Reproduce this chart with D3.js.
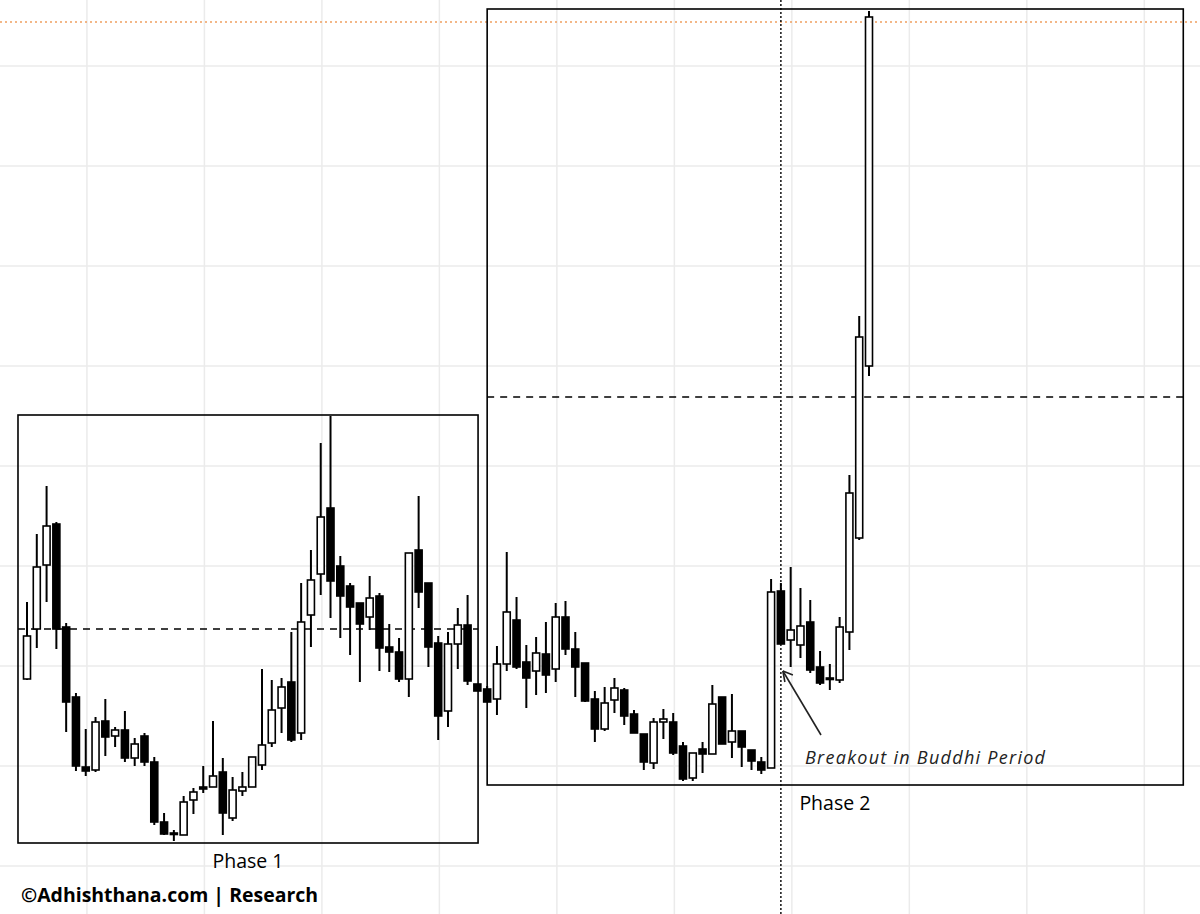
<!DOCTYPE html>
<html><head><meta charset="utf-8">
<script src="https://cdn.jsdelivr.net/npm/d3@7"></script>
<style>body{margin:0;background:#fff}svg{display:block}</style>
</head><body>
<svg id="c" width="1200" height="914"></svg>
<script>
// OHLC values (price units)
const opens  = [235,285,349,390,287,217,147,144,193,178,184,156,178,152,92,80,79,114,127,127,142,96,123,127,149,171,206,232,181,299,340,406,348,328,311,297,318,267,262,235,364,331,271,203,270,289,230,225,215,250,294,252,243,260,245,297,265,251,215,185,214,224,200,180,151,192,192,168,136,165,160,217,172,183,164,152,146,323,274,269,292,247,235,234,282,376,548];
const highs  = [312,380,428,392,291,221,185,197,215,187,203,176,181,157,101,84,118,126,148,193,156,137,142,157,245,234,236,282,331,364,471,498,358,331,311,338,321,290,276,361,418,331,278,282,306,319,230,228,268,362,317,269,277,292,311,313,282,251,223,227,236,226,204,180,196,205,201,172,161,172,229,217,220,183,164,157,335,331,347,326,314,263,250,297,439,598,903];
const lows   = [234,266,312,265,182,143,138,142,158,167,152,148,148,89,79,73,79,100,121,127,79,93,118,127,144,167,181,172,174,267,319,296,276,259,232,284,243,242,232,217,306,247,174,187,245,229,223,212,199,243,245,206,219,221,232,259,217,212,172,183,201,189,181,144,145,175,159,133,133,141,160,170,156,147,144,140,146,270,247,256,241,229,224,231,264,374,538];
const closes = [278,347,388,285,212,148,143,192,177,184,156,170,152,92,80,81,112,122,125,138,101,124,127,157,169,204,227,174,292,334,397,333,318,307,290,316,266,262,235,361,322,267,198,270,289,233,223,212,250,302,247,236,261,239,297,265,247,213,185,211,226,198,181,152,192,195,161,135,161,160,210,170,183,167,153,144,322,270,284,288,244,231,236,287,421,577,897];
// reference levels (price) and annotation anchors (candle index / price)
const phase1 = {x0:-0.92, x1:46.07, top:499, bottom:71, level:285, label:"Phase 1"};
const phase2 = {x0:47.0, x1:118.1, top:905, bottom:129, level:517, label:"Phase 2"};
const highLevel = 892;
const breakoutIndex = 77.0;
const breakoutLabel = "Breakout in Buddhi Period";
const credit = "©Adhishthana.com | Research";

const svg = d3.select("#c");
const x = d3.scaleLinear().domain([0, opens.length-1]).range([27, 869]);
const y = d3.scaleLinear().domain([0, 914]).range([914, 0]);
const bw = 7;
const FONT = "Open Sans, sans-serif";

// grid
const gx = d3.range(-6, 120, 12).map(v => v + 0.12);
svg.append("g").selectAll("line").data(gx).join("line")
  .attr("x1", d=>x(d)).attr("x2", d=>x(d)).attr("y1",0).attr("y2",914)
  .attr("stroke","#ebebeb").attr("stroke-width",1.5);
const gy = d3.range(48, 914, 100);
svg.append("g").selectAll("line").data(gy).join("line")
  .attr("y1", d=>y(d)).attr("y2", d=>y(d)).attr("x1",0).attr("x2",1200)
  .attr("stroke","#ebebeb").attr("stroke-width",1.5);

// orange dotted top level
svg.append("line").attr("x1",0).attr("x2",1200).attr("y1",y(highLevel)).attr("y2",y(highLevel))
  .attr("stroke","#f0a060").attr("stroke-width",1.3).attr("stroke-dasharray","2,3");

// boxes
[phase1, phase2].forEach(p => {
  svg.append("rect").attr("x", x(p.x0)).attr("y", y(p.top))
    .attr("width", x(p.x1)-x(p.x0)).attr("height", y(p.bottom)-y(p.top))
    .attr("fill","none").attr("stroke","#000").attr("stroke-width",1.6);
  svg.append("line").attr("x1", x(p.x0)).attr("x2", x(p.x1))
    .attr("y1", y(p.level)).attr("y2", y(p.level))
    .attr("stroke","#000").attr("stroke-width",1.4).attr("stroke-dasharray","7,6");
  svg.append("text").attr("class","plabel")
    .attr("x", p===phase2 ? x(breakoutIndex)+54 : (x(p.x0)+x(p.x1))/2)
    .attr("y", y(p.bottom)+25).attr("text-anchor","middle")
    .attr("font-family",FONT).attr("font-size",19.5)
    .text(p.label);
});

// vertical dotted breakout line
svg.append("line").attr("x1", x(breakoutIndex)).attr("x2", x(breakoutIndex))
  .attr("y1",0).attr("y2",914).attr("stroke","#000").attr("stroke-width",1.4)
  .attr("stroke-dasharray","2,2");

// candles
const data = opens.map((o,i)=>({i,o,h:highs[i],l:lows[i],c:closes[i]}));
const g = svg.append("g");
g.selectAll("line").data(data).join("line")
  .attr("x1",d=>x(d.i)).attr("x2",d=>x(d.i))
  .attr("y1",d=>y(d.h)).attr("y2",d=>y(d.l))
  .attr("stroke","#000").attr("stroke-width",2);
g.selectAll("rect").data(data).join("rect")
  .attr("x",d=>x(d.i)-bw/2).attr("width",bw)
  .attr("y",d=>y(Math.max(d.o,d.c)))
  .attr("height",d=>Math.max(1.5, Math.abs(y(d.o)-y(d.c))))
  .attr("fill",d=>d.c>=d.o?"#fff":"#000")
  .attr("stroke","#000").attr("stroke-width",1.6);

// arrow annotation
const ax = x(breakoutIndex)+2, ay = y(243);
svg.append("line").attr("x1",821).attr("x2",ax)
  .attr("y1",735).attr("y2",ay).attr("stroke","#222").attr("stroke-width",1.6);
svg.append("path").attr("d",`M${ax},${ay} l2,11 M${ax},${ay} l10,4`)
  .attr("stroke","#222").attr("stroke-width",1.6).attr("fill","none");
svg.append("text").attr("x",805).attr("y",764).attr("font-style","italic")
  .attr("font-family",FONT).attr("font-size",18).attr("fill","#222")
  .attr("textLength",240).attr("lengthAdjust","spacing")
  .text(breakoutLabel);

svg.append("text").attr("x",21).attr("y",902).attr("font-weight","bold")
  .attr("font-family",FONT).attr("font-size",19)
  .attr("textLength",297).attr("lengthAdjust","spacingAndGlyphs")
  .text(credit);
</script>
</body></html>
